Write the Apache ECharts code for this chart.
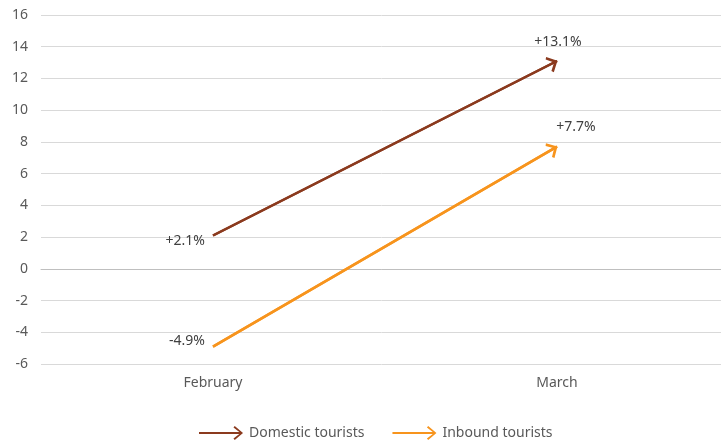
<!DOCTYPE html>
<html>
<head>
<meta charset="utf-8">
<script src="https://cdn.jsdelivr.net/npm/echarts@6/dist/echarts.min.js"></script>
<style>html,body{margin:0;padding:0;background:#fff}#c{width:721px;height:446px}</style>
</head>
<body>
<div id="c"></div>
<script>
var categories = ['February', 'March'];
var domesticValues = [2.1, 13.1];
var inboundValues = [-4.9, 7.7];
var domesticLabels = ['+2.1%', '+13.1%'];
var inboundLabels = ['-4.9%', '+7.7%'];
var seriesNames = ['Domestic tourists', 'Inbound tourists'];
var yTicks = {min: -6, max: 16, interval: 2};

var colDom = '#8B3A1E';
var colInb = '#F7941D';
var FONT = 'Noto Sans';
var textCol = '#595959';

var chevronUp = 'path://M6,0 L12,6.6 L10.5,7.9 L6,3 L1.5,7.9 L0,6.6 Z';
var legendArrow = 'path://M0,5.1 L38,5.1 L32.5,0.8 L33.7,-0.6 L41.5,6 L33.7,12.6 L32.5,11.2 L38,6.9 L0,6.9 Z';

function mkSeries(name, vals, labels, color, labelCfgs) {
  return {
    name: name,
    type: 'line',
    data: vals.map(function (v, i) {
      return {value: v, label: Object.assign({show: true, formatter: labels[i],
        color: '#404040', fontFamily: FONT, fontSize: 14}, labelCfgs[i])};
    }),
    symbol: 'circle',
    symbolSize: 0.01,
    showSymbol: true,
    lineStyle: {color: color, width: 2.5},
    itemStyle: {color: color},
    label: {show: true, color: '#404040', fontFamily: FONT, fontSize: 14},
    markLine: {
      silent: true,
      animation: false,
      symbol: ['none', chevronUp],
      symbolSize: [17, 10],
      symbolOffset: [0, [0, 4.5]],
      label: {show: false},
      lineStyle: {color: color, width: 2.5, type: 'solid'},
      emphasis: {disabled: true},
      data: [[{coord: [categories[0], vals[0]]}, {coord: [categories[1], vals[1]]}]]
    }
  };
}

var chart = echarts.init(document.getElementById('c'));
chart.setOption({
  animation: false,
  grid: {left: 41, top: 15, width: 688, height: 349, containLabel: false, outerBoundsMode: 'none'},
  legend: {
    bottom: 1,
    left: 194,
    itemWidth: 46,
    itemHeight: 14,
    itemGap: 28,
    textStyle: {color: textCol, fontFamily: FONT, fontSize: 14},
    data: [
      {name: seriesNames[0], icon: legendArrow, itemStyle: {color: colDom}},
      {name: seriesNames[1], icon: legendArrow, itemStyle: {color: colInb}}
    ]
  },
  xAxis: {
    type: 'category',
    data: categories,
    boundaryGap: true,
    axisLine: {onZero: true, lineStyle: {color: '#bfbfbf', width: 1}},
    axisTick: {show: false},
    axisLabel: {color: textCol, fontFamily: FONT, fontSize: 14, margin: 12},
    position: 'bottom'
  },
  yAxis: {
    type: 'value',
    min: yTicks.min, max: yTicks.max, interval: yTicks.interval,
    axisLine: {show: false},
    axisTick: {show: false},
    axisLabel: {color: textCol, fontFamily: FONT, fontSize: 14, margin: 13},
    splitLine: {lineStyle: {color: '#d9d9d9', width: 1}}
  },
  series: [
    mkSeries(seriesNames[0], domesticValues, domesticLabels, colDom,
      [{position: 'left', distance: 8, offset: [0, 6]}, {position: 'top', distance: 12, offset: [1, 0]}]),
    mkSeries(seriesNames[1], inboundValues, inboundLabels, colInb,
      [{position: 'left', distance: 8, offset: [0, -6]}, {position: 'top', distance: 13, offset: [19, 0]}])
  ]
});
</script>
</body>
</html>
